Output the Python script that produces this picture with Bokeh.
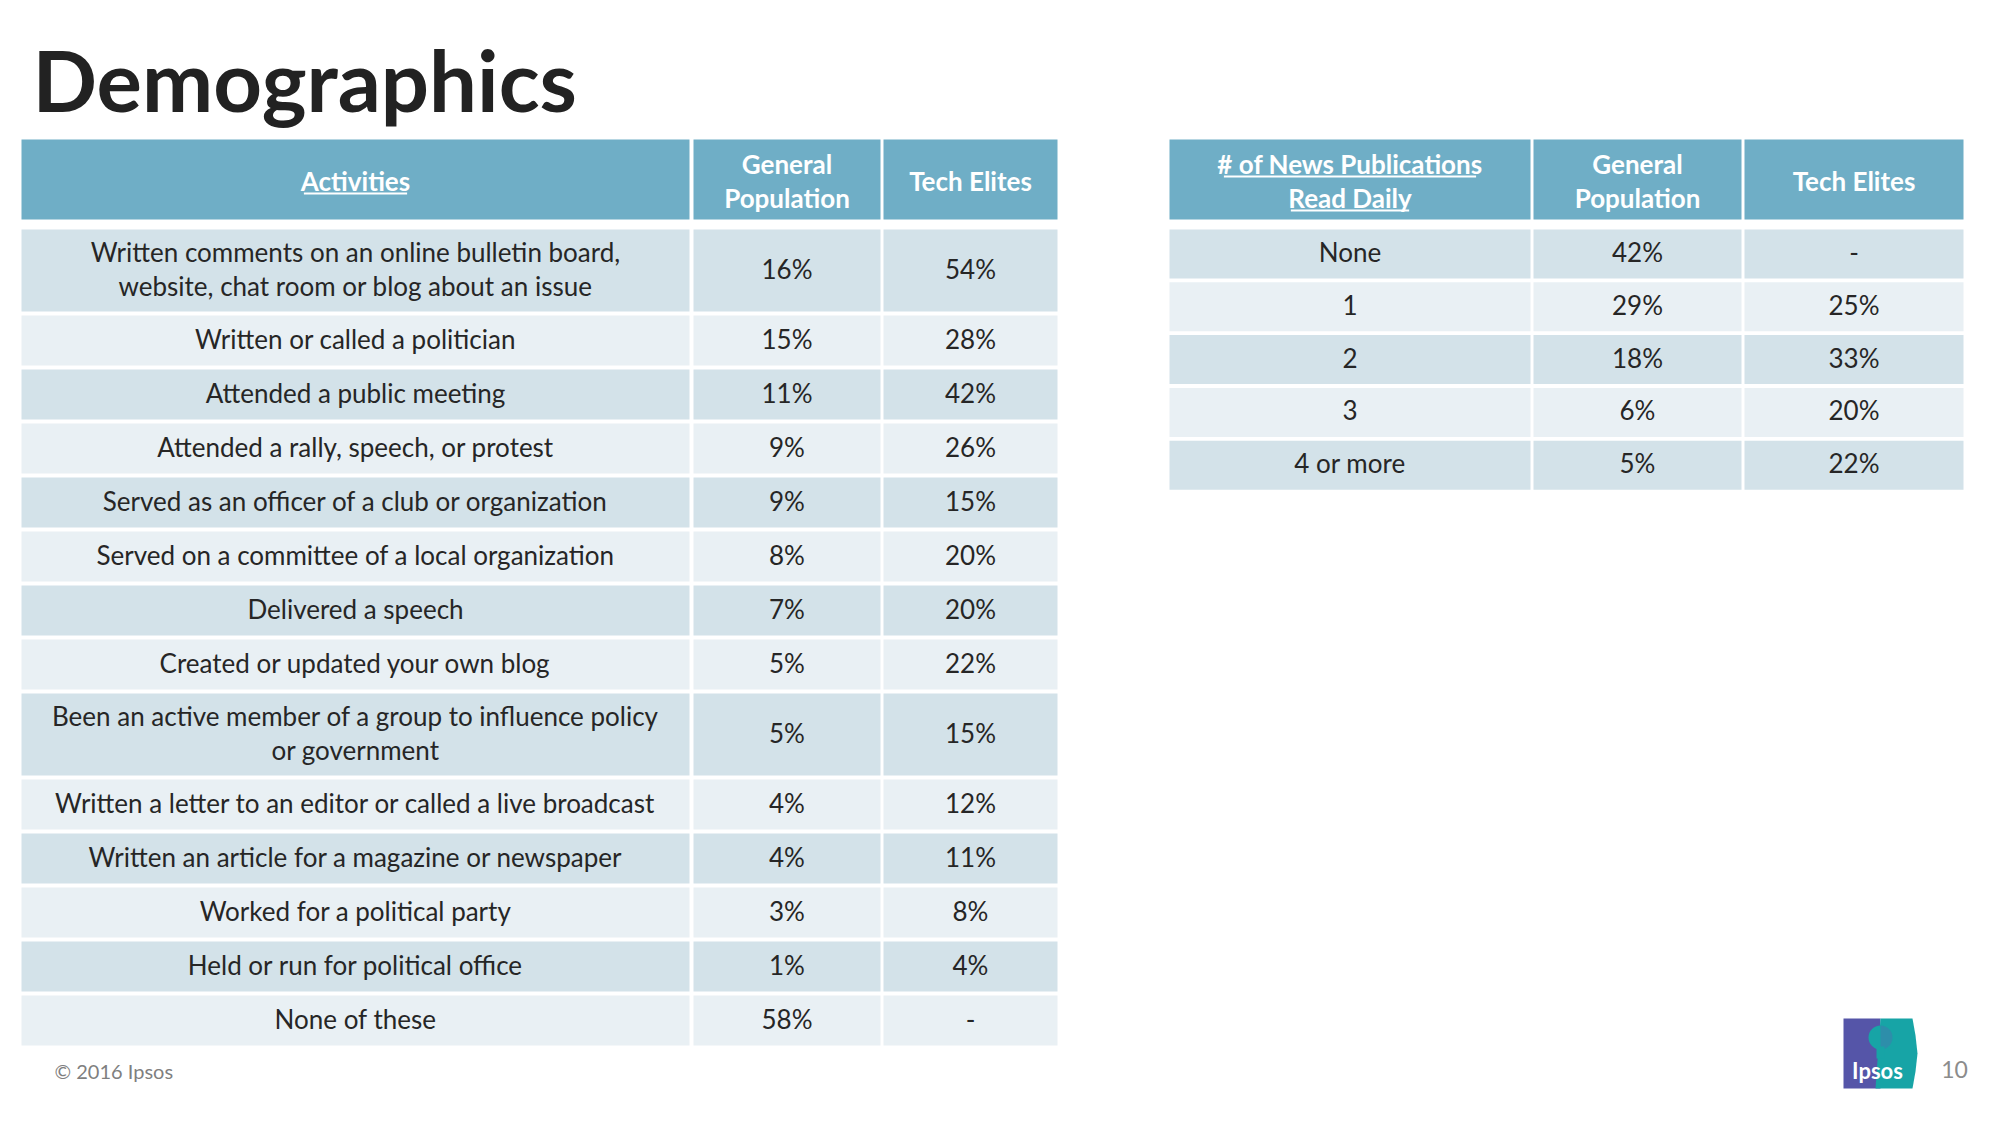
from bokeh.plotting import figure
from bokeh.models import Range1d
from bokeh.core.properties import value
from bokeh.embed import file_html
from bokeh.resources import INLINE

# ---------------- data ----------------
title = "Demographics"

act_headers = ["Activities", "General\nPopulation", "Tech Elites"]
activities = [
    "Written comments on an online bulletin board,\nwebsite, chat room or blog about an issue",
    "Written or called a politician",
    "Attended a public meeting",
    "Attended a rally, speech, or protest",
    "Served as an officer of a club or organization",
    "Served on a committee of a local organization",
    "Delivered a speech",
    "Created or updated your own blog",
    "Been an active member of a group to influence policy\nor government",
    "Written a letter to an editor or called a live broadcast",
    "Written an article for a magazine or newspaper",
    "Worked for a political party",
    "Held or run for political office",
    "None of these",
]
act_general = ["16%", "15%", "11%", "9%", "9%", "8%", "7%", "5%", "5%", "4%", "4%", "3%", "1%", "58%"]
act_tech = ["54%", "28%", "42%", "26%", "15%", "20%", "20%", "22%", "15%", "12%", "11%", "8%", "4%", "-"]

news_headers = ["# of News Publications\nRead Daily", "General\nPopulation", "Tech Elites"]
news_labels = ["None", "1", "2", "3", "4 or more"]
news_general = ["42%", "29%", "18%", "6%", "5%"]
news_tech = ["-", "25%", "33%", "20%", "22%"]

footer = "\u00a9 2016 Ipsos"
page_number = "10"

# ---------------- style ----------------
FONT = "Lato"
HEADER_BG = "#6FAEC6"
ROW_DARK = "#D3E2E9"
ROW_LIGHT = "#E9F0F4"
TEXT_COL = "#262626"
BODY_PX = 26
HEAD_PX = 26
LINE_SP = 34

p = figure(width=1984, height=1109, output_backend="svg", toolbar_location=None,
           x_range=Range1d(0, 1984), y_range=Range1d(1109, 0),
           min_border=0, background_fill_color="white", border_fill_color="white")
p.axis.visible = False
p.grid.visible = False
p.outline_line_color = None


def text_width_em(s):
    w = 0.0
    for ch in s:
        if ch in "iljtfI .,'|!:;":
            w += 0.27
        elif ch in "mwMW":
            w += 0.8
        elif ch.isupper():
            w += 0.62
        else:
            w += 0.5
    return w


def draw_table(col_edges, headers, columns, header_top, header_h, first_top,
               single_h, double_h, gap, underline_cols):
    for j, (l, r) in enumerate(col_edges):
        p.quad(left=[l], right=[r], top=[header_top], bottom=[header_top + header_h],
               fill_color=HEADER_BG, line_color=None)
        lines = headers[j].split("\n")
        cx = (l + r) / 2
        cy = header_top + header_h / 2 + 1
        n = len(lines)
        ys = [cy + (k - (n - 1) / 2) * LINE_SP for k in range(n)]
        p.text(x=[cx] * n, y=ys, text=lines, text_align="center", text_baseline="middle",
               text_font=value(FONT), text_font_style="bold",
               text_font_size=f"{HEAD_PX}px", text_color="white")
        if j in underline_cols:
            for k, ln in enumerate(lines):
                w = text_width_em(ln) * HEAD_PX
                p.segment(x0=[cx - w / 2], x1=[cx + w / 2], y0=[ys[k] + 13], y1=[ys[k] + 13],
                          line_color="white", line_width=1.8)
    top = first_top
    nrows = len(columns[0])
    for i in range(nrows):
        nl = max(len(str(c[i]).split("\n")) for c in columns)
        h = double_h if nl > 1 else single_h
        color = ROW_DARK if i % 2 == 0 else ROW_LIGHT
        for j, (l, r) in enumerate(col_edges):
            p.quad(left=[l], right=[r], top=[top], bottom=[top + h],
                   fill_color=color, line_color=None)
            lines = str(columns[j][i]).split("\n")
            n = len(lines)
            cy = top + h / 2 - 2
            ys = [cy + (k - (n - 1) / 2) * LINE_SP for k in range(n)]
            p.text(x=[(l + r) / 2] * n, y=ys, text=lines, text_align="center",
                   text_baseline="middle", text_font=value(FONT),
                   text_font_size=f"{BODY_PX}px", text_color=TEXT_COL)
        top += h + gap


# left table
draw_table(col_edges=[(21, 689), (693, 880), (883, 1057)],
           headers=act_headers, columns=[activities, act_general, act_tech],
           header_top=139, header_h=80, first_top=229,
           single_h=50, double_h=82, gap=4, underline_cols=[0])

# right table
draw_table(col_edges=[(1169, 1530), (1533, 1741), (1744, 1963)],
           headers=news_headers, columns=[news_labels, news_general, news_tech],
           header_top=139, header_h=80, first_top=229,
           single_h=49, double_h=82, gap=3.8, underline_cols=[0])

# title
p.text(x=[32], y=[78], text=[title], text_align="left", text_baseline="middle",
       text_font=value(FONT), text_font_style="bold", text_font_size="85px",
       text_color="#222222")

# footer
p.text(x=[54], y=[1070], text=[footer], text_align="left", text_baseline="middle",
       text_font=value(FONT), text_font_size="20px", text_color="#7F7F7F")
p.text(x=[1954], y=[1069], text=[page_number], text_align="center", text_baseline="middle",
       text_font=value(FONT), text_font_size="23px", text_color="#8C8C8C")

# Ipsos logo (decoration)
p.quad(left=[1843], right=[1880], top=[1018], bottom=[1088], fill_color="#5555A8", line_color=None)
p.patch(x=[1880, 1912, 1915, 1917, 1915, 1912, 1875],
        y=[1018, 1018, 1035, 1053, 1071, 1088, 1088],
        fill_color="#17A4A6", line_color=None)
p.wedge(x=[1880], y=[1037], radius=12, start_angle=1.5708, end_angle=4.7124,
        fill_color="#17A4A6", line_color=None)
p.wedge(x=[1880], y=[1037], radius=12, start_angle=-1.5708, end_angle=1.5708,
        fill_color="#2D8EAA", line_color=None)
p.quad(left=[1876], right=[1884], top=[1046], bottom=[1058], fill_color="#17A4A6", line_color=None)
p.text(x=[1877], y=[1070], text=["Ipsos"], text_align="center", text_baseline="middle",
       text_font=value(FONT), text_font_style="bold", text_font_size="22px", text_color="white")

open("out.html", "w").write(file_html(p, INLINE))
